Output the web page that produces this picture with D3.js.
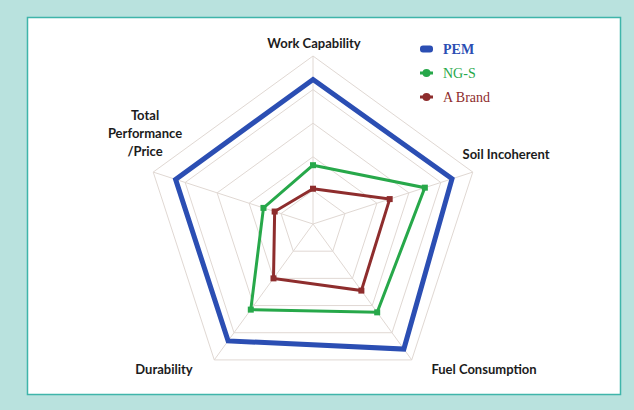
<!DOCTYPE html>
<html><head><meta charset="utf-8">
<script src="https://cdn.jsdelivr.net/npm/d3@7"></script>
<style>html,body{margin:0;padding:0;background:#b9e2de;}</style>
</head><body>
<svg id="c" width="634" height="410"></svg>
<script>
const axes = ["Work Capability","Soil Incoherent","Fuel Consumption","Durability","Total Performance/Price"];
const seriesNames = ["PEM","NG-S","A Brand"];
const pem    = [8.6, 8.7, 9.2, 8.6, 8.6];
const ngs    = [3.5, 7.0, 6.5, 6.3, 3.1];
const abrand = [2.1, 4.8, 4.9, 4.0, 2.4];
const ringTicks = [2,4,6,8,10];
const colors = ["#2b4eb3","#27a84a","#8e2d2d"];
const widths = [5,3,3];

const svg = d3.select("#c");
svg.append("rect").attr("x",0).attr("y",0).attr("width",634).attr("height",410).attr("fill","#b9e2de");
svg.append("rect").attr("x",27.5).attr("y",17.5).attr("width",593).attr("height",377)
  .attr("fill","#ffffff").attr("stroke","#3fb5aa").attr("stroke-width",1.5);

const cx = 313, cy = 224, R = 168;
const r = d3.scaleLinear().domain([0,10]).range([0,R]);
const ang = d3.scaleLinear().domain([0,axes.length]).range([0,2*Math.PI]);
const pt = (i,v)=>[cx + r(v)*Math.sin(ang(i)), cy - r(v)*Math.cos(ang(i))];
const line = d3.line().curve(d3.curveLinearClosed);

const g = svg.append("g");
ringTicks.forEach(t=>{
  g.append("path").attr("d", line(axes.map((a,i)=>pt(i,t))))
   .attr("fill","none").attr("stroke","#e0d8d3").attr("stroke-width",1);
});
axes.forEach((a,i)=>{
  const p = pt(i,10);
  g.append("line").attr("x1",cx).attr("y1",cy).attr("x2",p[0]).attr("y2",p[1])
   .attr("stroke","#e0d8d3").attr("stroke-width",1);
});

const data = [pem, ngs, abrand];
data.forEach((vals,k)=>{
  g.append("path").attr("d", line(vals.map((v,i)=>pt(i,v))))
   .attr("fill","none").attr("stroke",colors[k]).attr("stroke-width",widths[k])
   .attr("stroke-linejoin","miter");
  if(k>0){
    vals.forEach((v,i)=>{
      const p=pt(i,v);
      g.append("rect").attr("x",p[0]-3).attr("y",p[1]-3).attr("width",6).attr("height",6)
       .attr("fill",colors[k]);
    });
  }
});

// axis labels
const lab = svg.append("g").attr("font-family","Lato, 'Open Sans', sans-serif")
  .attr("font-weight","bold").attr("font-size","13px").attr("fill","#1c1c1c");
const labelPos = [[314,48],[506,159],[484,374],[164,374],[145,120]];
axes.forEach((a,i)=>{
  const t = lab.append("text").attr("x",labelPos[i][0]).attr("y",labelPos[i][1]).attr("text-anchor","middle");
  if(i===4){
    ["Total","Performance","/Price"].forEach((s,j)=>t.append("tspan").attr("x",labelPos[i][0]).attr("dy", j===0?0:18).text(s));
  } else t.text(a);
});

// legend
const leg = svg.append("g").attr("font-family","'Liberation Serif', 'DejaVu Serif', serif").attr("font-size","14px");
seriesNames.forEach((s,k)=>{
  const y = 49 + k*24;
  if(k===0){
    leg.append("rect").attr("x",420).attr("y",y-3.5).attr("width",13).attr("height",7).attr("rx",3).attr("fill",colors[k]);
  } else {
    leg.append("line").attr("x1",420).attr("x2",433).attr("y1",y).attr("y2",y).attr("stroke",colors[k]).attr("stroke-width",3);
    leg.append("circle").attr("cx",426.5).attr("cy",y).attr("r",4).attr("fill",colors[k]);
  }
  leg.append("text").attr("x",443).attr("y",y+5).attr("fill",colors[k])
    .attr("font-weight", k===0?"bold":"normal").text(s);
});
</script>
</body></html>
